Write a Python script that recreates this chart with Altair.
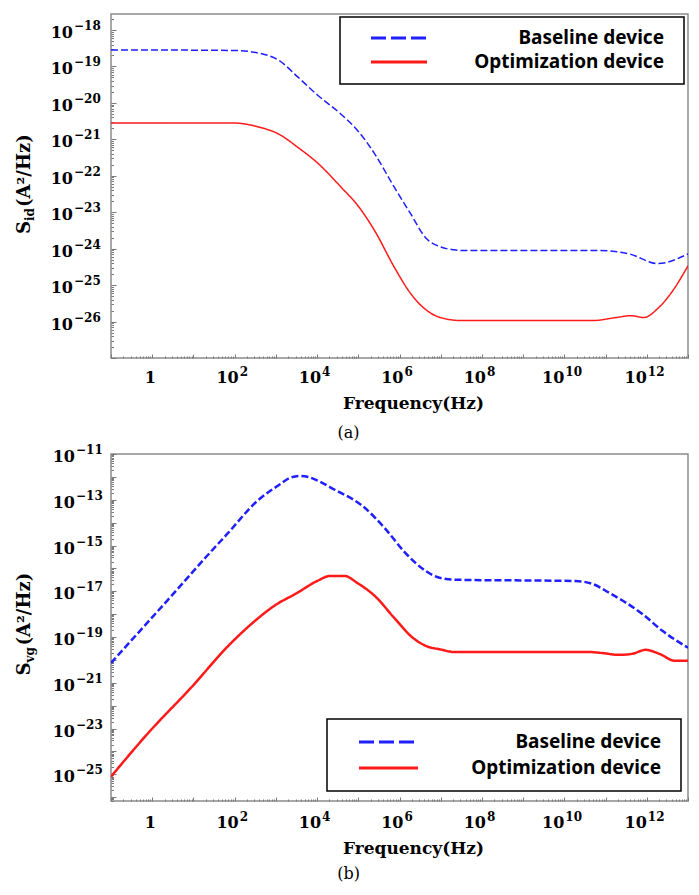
import altair as alt
import pandas as pd

SERIES = ["Baseline device", "Optimization device"]
LINE_COLORS = ["#1f1fff", "#ff1a1a"]

# (a) drain-current noise spectral density S_id (A^2/Hz)
A_BASE_FREQ = [0.1, 1, 100, 400, 1150, 3500, 1.05e4, 3.8e4, 9.8e4, 2.5e5, 7.6e5, 1.86e6,
               4.3e6, 9.8e6, 2.1e7, 3.6e7, 5.9e10, 1.5e11, 3.7e11, 1.86e12, 1e13]
A_BASE_SID = [2.82e-19, 2.82e-19, 2.75e-19, 2.3e-19, 1.5e-19, 5.0e-20, 1.6e-20, 4.9e-21,
              1.7e-21, 4.0e-22, 4.7e-23, 9.1e-24, 2.0e-24, 1.12e-24, 9.3e-25, 8.9e-25, 8.9e-25,
              8.5e-25, 7.2e-25, 3.9e-25, 7.2e-25]
A_OPT_FREQ = [0.1, 85, 380, 1150, 3500, 1.05e4, 3.8e4, 9.8e4, 2.5e5, 7.6e5, 1.86e6, 4.3e6,
              9.8e6, 3.0e7, 5.0e10, 1.8e11, 4.1e11, 8.5e11, 1.86e12, 4.3e12, 1e13]
A_OPT_SID = [2.82e-21, 2.82e-21, 2.19e-21, 1.41e-21, 5.9e-22, 2.2e-22, 4.9e-23, 1.51e-23,
             3.1e-24, 3.0e-25, 5.9e-26, 2.14e-26, 1.29e-26, 1.07e-26, 1.07e-26, 1.29e-26,
             1.45e-26, 1.29e-26, 2.3e-26, 7.1e-26, 3.4e-25]

# (b) gate-voltage-referred noise spectral density S_vg (A^2/Hz)
B_BASE_FREQ = [0.1, 3.4, 21, 66, 355, 1290, 2140, 3900, 3.1e4, 1.26e5, 4.6e5, 1.38e6, 4.3e6,
               9.3e6, 2.2e7, 1.86e10, 4.8e10, 1.23e11, 7.8e11, 2.4e12, 1e13]
B_BASE_SVG = [7.4e-21, 8.5e-18, 3.4e-16, 3.2e-15, 8.9e-14, 4.9e-13, 8.9e-13, 1.10e-12, 2.4e-13,
              5.4e-14, 5.2e-15, 4.8e-16, 7.8e-17, 3.9e-17, 3.2e-17, 2.8e-17, 2.1e-17, 8.5e-18,
              1.02e-18, 1.86e-19, 3.4e-20]
B_OPT_FREQ = [0.1, 0.89, 8.3, 78, 355, 910, 3300, 1e4, 2.1e4, 4.6e4, 9.5e4, 2.5e5, 7.6e5, 2.1e6,
              4.5e6, 9.5e6, 2.2e7, 4.1e10, 8.3e10, 2.1e11, 4.5e11, 9.3e11, 2.0e12, 4.9e12, 1e13]
B_OPT_SVG = [7.9e-26, 7.9e-24, 5.5e-22, 5.0e-20, 6.2e-19, 2.3e-18, 8.5e-18, 2.8e-17, 4.7e-17,
             4.7e-17, 2.3e-17, 6.3e-18, 6.6e-19, 9.3e-20, 4.0e-20, 2.9e-20, 2.2e-20, 2.2e-20,
             2.0e-20, 1.66e-20, 1.86e-20, 2.75e-20, 1.86e-20, 9.1e-21, 9.1e-21]

# axis ranges and tick labels (power-of-ten labels: base "10" plus exponent text)
X_DOMAIN = [0.1, 1e13]
X_LABEL_VALUES = [1, 1e2, 1e4, 1e6, 1e8, 1e10, 1e12]
X_LABEL_EXPONENTS = ["", "2", "4", "6", "8", "10", "12"]

A_Y_DOMAIN = [1e-27, 2.75e-18]
A_Y_LABEL_VALUES = [1e-26, 1e-25, 1e-24, 1e-23, 1e-22, 1e-21, 1e-20, 1e-19, 1e-18]
A_Y_LABEL_EXPONENTS = ["−26", "−25", "−24", "−23", "−22", "−21", "−20", "−19", "−18"]

B_Y_DOMAIN = [6.8e-27, 1e-11]
B_Y_LABEL_VALUES = [1e-25, 1e-23, 1e-21, 1e-19, 1e-17, 1e-15, 1e-13, 1e-11]
B_Y_LABEL_EXPONENTS = ["−25", "−23", "−21", "−19", "−17", "−15", "−13", "−11"]

X_TITLE = "Frequency(Hz)"
UNIT_TEXT = "(A²/Hz)"

SERIF = "DejaVu Serif"
SANS = "Noto Sans"
TICK_COLOR = "#7a7a7a"
LABEL_SIZE = 16
SUP_SIZE = 12


def decades(lo, hi):
    return [10.0 ** k for k in range(lo, hi + 1)]


def minor_ticks(lo, hi, vmin, vmax):
    out = []
    for k in range(lo, hi + 1):
        for m in range(2, 10):
            v = m * 10.0 ** k
            if vmin <= v <= vmax:
                out.append(v)
    return out


def series_frame(f0, v0, f1, v1):
    return pd.concat([
        pd.DataFrame({"freq": f0, "S": v0, "series": SERIES[0]}),
        pd.DataFrame({"freq": f1, "S": v1, "series": SERIES[1]}),
    ], ignore_index=True)


def one_row():
    return pd.DataFrame({"k": [0]})


def text_mark(**kw):
    base = dict(font=SERIF, fontWeight="bold", color="black")
    base.update(kw)
    return base


def panel(df, y_domain, y_lo, y_hi, y_lab_vals, y_lab_exps, dash, line_w,
          width, height, y_anchor, x_base_off, x_sup_off, x_title_off, caption_off,
          title_sub, title_x, sub_w, caption,
          box, rule_x, rule_ys, text_x):
    x_scale = alt.Scale(type="log", domain=X_DOMAIN, nice=False)
    y_scale = alt.Scale(type="log", domain=y_domain, nice=False)

    def tick_axis(orient, values, size):
        return alt.Axis(orient=orient, values=values, labels=False, tickSize={"expr": str(-size)},
                        tickColor=TICK_COLOR, tickWidth=1, domain=False, grid=False, title=None)

    # tick-only axes: decades as major ticks, 2..9 multiples as minor ticks (drawn inward)
    minor_layer = alt.Chart(df).mark_line(strokeOpacity=0).encode(
        x=alt.X("freq:Q", scale=x_scale,
                axis=tick_axis("bottom", minor_ticks(-1, 12, X_DOMAIN[0], X_DOMAIN[1]), 2)),
        y=alt.Y("S:Q", scale=y_scale,
                axis=tick_axis("left", minor_ticks(y_lo, y_hi, y_domain[0], y_domain[1]), 2.5)),
        detail="series:N",
    )
    lines = alt.Chart(df).mark_line(strokeWidth=line_w, interpolate="monotone", clip=True).encode(
        x=alt.X("freq:Q", scale=x_scale, axis=tick_axis("bottom", decades(-1, 13), 4)),
        y=alt.Y("S:Q", scale=y_scale, axis=tick_axis("left", decades(y_lo, y_hi), 5)),
        color=alt.Color("series:N", scale=alt.Scale(domain=SERIES, range=LINE_COLORS), legend=None),
        strokeDash=alt.StrokeDash("series:N", scale=alt.Scale(domain=SERIES, range=[dash, [1, 0]]),
                                  legend=None),
    )
    layers = [minor_layer, lines]

    # x tick labels: "1", then "10" with a raised exponent, centred on the tick
    xl = pd.DataFrame({"freq": X_LABEL_VALUES, "sup": X_LABEL_EXPONENTS})
    xl["n"] = xl["sup"].str.len()
    plain = xl[xl["n"] == 0].assign(txt="1")
    layers.append(alt.Chart(plain).mark_text(**text_mark(
        align="center", baseline="alphabetic", fontSize=LABEL_SIZE, dx=-2)).encode(
        x=alt.X("freq:Q", scale=x_scale, axis=None), y=alt.value(height + x_base_off), text="txt:N"))
    for n, dx in [(1, 4), (2, 0)]:
        part = xl[xl["n"] == n]
        layers.append(alt.Chart(part).mark_text(**text_mark(
            text="10", align="right", baseline="alphabetic", fontSize=LABEL_SIZE, dx=dx)).encode(
            x=alt.X("freq:Q", scale=x_scale, axis=None), y=alt.value(height + x_base_off)))
        layers.append(alt.Chart(part).mark_text(**text_mark(
            align="left", baseline="alphabetic", fontSize=SUP_SIZE, dx=dx + 1)).encode(
            x=alt.X("freq:Q", scale=x_scale, axis=None), y=alt.value(height + x_sup_off),
            text="sup:N"))

    # y tick labels
    yl = pd.DataFrame({"S": y_lab_vals, "sup": y_lab_exps})
    layers.append(alt.Chart(yl).mark_text(**text_mark(
        text="10", align="right", baseline="alphabetic", fontSize=LABEL_SIZE, dy=8)).encode(
        x=alt.value(y_anchor), y=alt.Y("S:Q", scale=y_scale, axis=None)))
    layers.append(alt.Chart(yl).mark_text(**text_mark(
        align="left", baseline="alphabetic", fontSize=SUP_SIZE, dy=0)).encode(
        x=alt.value(y_anchor + 1), y=alt.Y("S:Q", scale=y_scale, axis=None), text="sup:N"))

    # x title
    layers.append(alt.Chart(one_row()).mark_text(**text_mark(
        text=X_TITLE, align="center", baseline="middle", fontSize=17)).encode(
        x=alt.value(width / 2 + 14), y=alt.value(height + x_title_off)))

    # legend box with line samples and right-aligned labels
    bx0, bx1, by0, by1 = box
    layers.append(alt.Chart(one_row()).mark_rect(fill="white", stroke="black", strokeWidth=1.5).encode(
        x=alt.value(bx0), x2=alt.value(bx1), y=alt.value(by0), y2=alt.value(by1)))
    for name, color, dsh, ry in zip(SERIES, LINE_COLORS, [[15, 5], [1, 0]], rule_ys):
        layers.append(alt.Chart(one_row()).mark_rule(color=color, strokeWidth=3, strokeDash=dsh).encode(
            x=alt.value(rule_x[0]), x2=alt.value(rule_x[1]), y=alt.value(ry)))
        layers.append(alt.Chart(pd.DataFrame({"series": [name]})).mark_text(
            align="right", baseline="middle", font=SANS, fontWeight="bold", fontSize=19, color="black"
        ).encode(x=alt.value(text_x), y=alt.value(ry), text="series:N"))

    # rotated y title with a subscript
    start = height / 2 + 48
    for txt, size, dx, dy in [("S", 18, 0, 0), (title_sub, 12, 13, 4), (UNIT_TEXT, 18, 13 + sub_w, 0)]:
        layers.append(alt.Chart(one_row()).mark_text(**text_mark(
            text=txt, angle=270, align="left", baseline="alphabetic", fontSize=size, dx=dx, dy=dy)).encode(
            x=alt.value(title_x), y=alt.value(start)))

    # panel caption
    layers.append(alt.Chart(one_row()).mark_text(
        text=caption, align="center", baseline="middle", font=SERIF, fontSize=16, color="black"
    ).encode(x=alt.value(width / 2 - 51), y=alt.value(height + caption_off)))

    return alt.layer(*layers).resolve_axis(x="independent", y="independent").properties(
        width=width, height=height)


df_a = series_frame(A_BASE_FREQ, A_BASE_SID, A_OPT_FREQ, A_OPT_SID)
df_b = series_frame(B_BASE_FREQ, B_BASE_SVG, B_OPT_FREQ, B_OPT_SVG)

panel_a = panel(df_a, A_Y_DOMAIN, -27, -18, A_Y_LABEL_VALUES, A_Y_LABEL_EXPONENTS,
                dash=[7, 3], line_w=1.5, width=577, height=344, y_anchor=-38,
                x_base_off=25, x_sup_off=18, x_title_off=46, caption_off=75,
                title_sub="id", title_x=-81, sub_w=14, caption="(a)",
                box=(229, 573, 3, 70), rule_x=(260, 316), rule_ys=(24, 48), text_x=553)

panel_b = panel(df_b, B_Y_DOMAIN, -27, -11, B_Y_LABEL_VALUES, B_Y_LABEL_EXPONENTS,
                dash=[10, 4], line_w=2.5, width=577, height=347, y_anchor=-36,
                x_base_off=27, x_sup_off=20, x_title_off=48, caption_off=73,
                title_sub="vg", title_x=-81, sub_w=17, caption="(b)",
                box=(216, 570, 265, 337), rule_x=(248, 307), rule_ys=(288, 314), text_x=550)

chart = alt.vconcat(panel_a, panel_b, spacing=1).properties(
    padding={"left": 15, "top": 13, "right": 5, "bottom": 5},
    background="white",
).configure_view(stroke="#8c8c8c", strokeWidth=1.5)

chart.save("out.html", embed_options={"renderer": "svg", "actions": False})
